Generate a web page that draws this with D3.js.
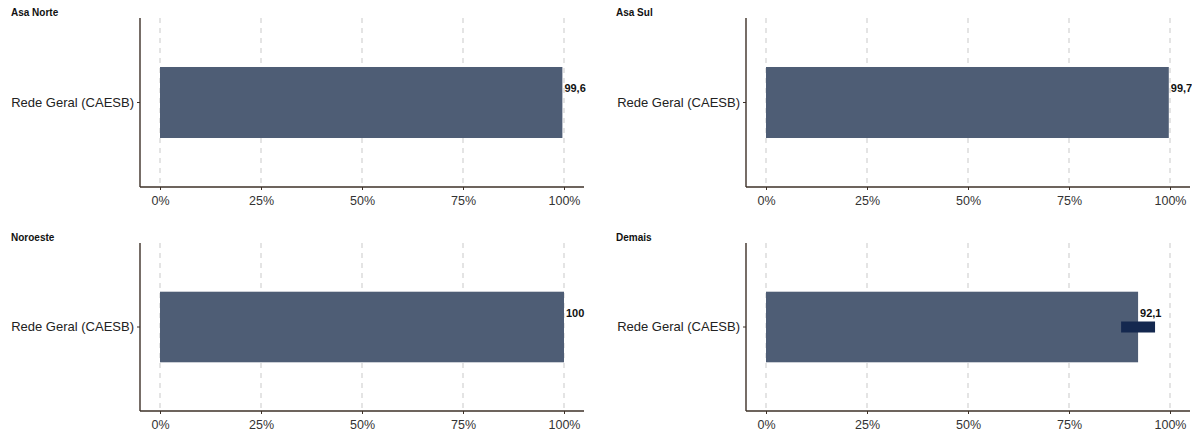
<!DOCTYPE html>
<html><head><meta charset="utf-8">
<script src="https://cdn.jsdelivr.net/npm/d3@7"></script>
<style>
html,body{margin:0;padding:0;background:#fff;}
svg{display:block;font-family:"Liberation Sans",Arial,Helvetica,sans-serif;}
</style></head>
<body><svg id="c" width="1198" height="432"></svg>
<script>
const regions = ["Asa Norte","Asa Sul","Noroeste","Demais"];
const category = "Rede Geral (CAESB)";
const values = [99.6, 99.7, 100, 92.1];
const ciLow = [null, null, null, 87.9];
const ciHigh = [null, null, null, 96.3];
const ticks = [0, 25, 50, 75, 100];

const svg = d3.select("#c");
const cols = [{left:140, right:584, titleX:11}, {left:746, right:1190, titleX:616}];
const rows = [{top:18, bottom:187, titleY:16}, {top:243, bottom:411, titleY:241}];
const axisColor = "#3d3027";

regions.forEach((reg, i) => {
  const c = cols[i % 2], r = rows[Math.floor(i / 2)];
  const g = svg.append("g");
  const x = d3.scaleLinear().domain([0, 100]).range([c.left + 20, c.left + 424]);
  const y = d3.scaleBand().domain([category]).range([r.top, r.bottom]).paddingInner(0).paddingOuter(0.69);

  g.append("text").attr("x", c.titleX).attr("y", r.titleY).attr("font-size", 10)
    .attr("font-weight", "bold").attr("fill", "#111").text(reg);

  const clipId = "clip" + i;
  svg.append("clipPath").attr("id", clipId).append("rect")
    .attr("x", c.left).attr("y", r.top).attr("width", c.right - c.left + 2).attr("height", r.bottom - r.top);

  g.selectAll(".grid").data(ticks).join("line")
    .attr("x1", d => x(d)).attr("x2", d => x(d))
    .attr("y1", r.top).attr("y2", r.bottom)
    .attr("stroke", "#d9d9d9").attr("stroke-width", 1.4).attr("stroke-dasharray", "5,5");

  const pg = g.append("g").attr("clip-path", `url(#${clipId})`);
  pg.append("rect")
    .attr("x", x(0)).attr("y", y(category))
    .attr("width", x(values[i]) - x(0)).attr("height", y.bandwidth())
    .attr("fill", "#4e5d75");

  if (ciLow[i] != null) {
    const cy = y(category) + y.bandwidth() / 2;
    pg.append("rect")
      .attr("x", x(ciLow[i])).attr("y", cy - 5.5)
      .attr("width", x(ciHigh[i]) - x(ciLow[i])).attr("height", 11)
      .attr("fill", "#14284f");
  }

  const fmt = v => (Number.isInteger(v) ? String(v) : v.toFixed(1).replace(".", ","));
  pg.append("text")
    .attr("x", x(values[i]) + 2).attr("y", y(category) + y.bandwidth() / 2 - 14)
    .attr("dy", "0.35em").attr("font-size", 11).attr("font-weight", "bold").attr("fill", "#111")
    .text(fmt(values[i]));

  const xa = g.append("g").attr("transform", `translate(0,${r.bottom})`)
    .call(d3.axisBottom(x).tickValues(ticks).tickFormat(d => d + "%").tickSize(3).tickPadding(6));
  xa.select(".domain").remove();
  xa.selectAll(".tick line").attr("stroke", axisColor);
  xa.selectAll("text").attr("font-size", 12.5).attr("fill", "#333").attr("font-family", "Liberation Sans, Arial, sans-serif");
  g.append("line").attr("x1", c.left).attr("x2", c.right).attr("y1", r.bottom).attr("y2", r.bottom)
    .attr("stroke", axisColor).attr("stroke-width", 1.4);

  const ya = g.append("g").attr("transform", `translate(${c.left},0)`)
    .call(d3.axisLeft(y).tickSize(3).tickPadding(3));
  ya.select(".domain").remove();
  ya.selectAll(".tick line").attr("stroke", axisColor);
  ya.selectAll("text").attr("font-size", 13).attr("fill", "#222").attr("font-family", "Liberation Sans, Arial, sans-serif");
  g.append("line").attr("x1", c.left).attr("x2", c.left).attr("y1", r.top).attr("y2", r.bottom)
    .attr("stroke", axisColor).attr("stroke-width", 1.4);
});
</script></body></html>
